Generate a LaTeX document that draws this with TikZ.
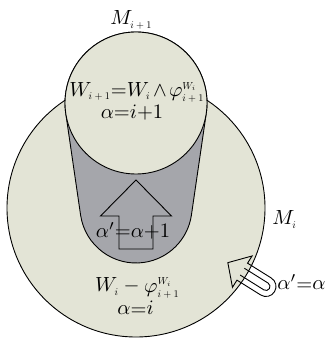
\documentclass[tikz,border=0pt]{standalone}
\definecolor{beige}{RGB}{227,228,214}
\definecolor{tubegray}{RGB}{165,166,171}
\newcommand{\sss}[1]{\mbox{\scalebox{0.5}{$#1$}}}
\begin{document}
\begin{tikzpicture}[x=1pt,y=1pt,
  outl/.style={draw=black,line width=0.9pt,line join=miter},
  lbl/.style={inner sep=0pt,anchor=base,scale=2.05,transform shape}]
\useasboundingbox (0,0) rectangle (325,339);
% big region M_i
\filldraw[outl,fill=beige] (136,131) circle[radius=129];
% gray tube (hull of the two circles)
\filldraw[outl,fill=tubegray] (65.74,225.76) -- (80.59,123.92)
  arc[start angle=188.29,end angle=351.71,radius=56] -- (206.26,225.76)
  arc[start angle=-8.29,end angle=188.29,radius=71] -- cycle;
% small region M_{i+1}
\filldraw[outl,fill=beige] (136,236) circle[radius=71];
% big hollow arrow
\draw[outl] (119,90) -- (153,90) -- (153,123) -- (171.5,123) -- (136,159)
  -- (100.5,123) -- (119,123) -- cycle;
% small looping hollow arrow
\begin{scope}[shift={(266,52.5)},rotate=148]
  \draw[outl] (0,-10) -- (28,-10) -- (28,-18.5) -- (45,0) -- (28,18.5) -- (28,10)
    -- (0,10) arc[start angle=90,end angle=270,radius=10] -- cycle;
  \draw[outl] (28,4) -- (0,4) arc[start angle=90,end angle=270,radius=4] -- (28,-4);
\end{scope}
% labels
\node[lbl,anchor=base west] (mtop) at (110,314) {$M_{\sss{i+1}}$};
\node[lbl] (wtop) at (137,242.3) {$W_{\sss{i+1}}{=}W_{\sss{i}}\mkern2mu{\wedge}\mkern2mu\varphi^{\sss{W_i}}_{\sss{i+1}}$};
\node[lbl] (atop) at (132,220.7) {$\alpha{=}i{+}1$};
\node[lbl] (astep) at (133,101) {$\alpha'{=}\alpha{+}1$};
\node[lbl,anchor=base west] (mi) at (272,114) {$M_{\sss{i}}$};
\node[lbl] (wbot) at (137.5,47) {$W_{\sss{i}}-\varphi^{\sss{W_i}}_{\sss{i+1}}$};
\node[lbl] (abot) at (135.5,24) {$\alpha{=}i$};
\node[lbl,anchor=base west] (aloop) at (277,49) {$\alpha'{=}\alpha$};
\end{tikzpicture}
\end{document}
